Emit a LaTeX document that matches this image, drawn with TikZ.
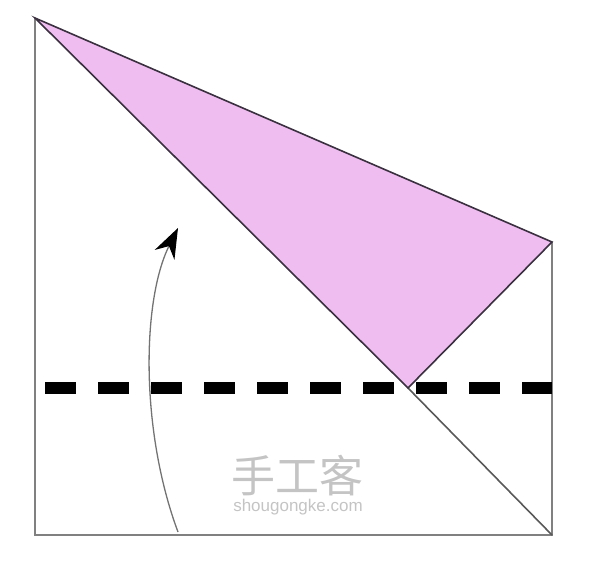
\documentclass[tikz,border=0pt]{standalone}
\usepackage{fontspec}
\setmainfont{Liberation Sans}
\newfontfamily\cjk{Noto Sans CJK SC}
\usetikzlibrary{arrows.meta}
\definecolor{edgegray}{HTML}{808080}
\definecolor{pinkfill}{HTML}{EFBDF0}
\definecolor{outline}{HTML}{3A3040}
\definecolor{wmgray}{HTML}{C4C4C4}
\tikzset{
  sheet/.style={draw=edgegray, line width=2pt},
  flap/.style={draw=outline, fill=pinkfill, line width=1.6pt, line join=miter},
  crease/.style={draw=black!65, line width=1.6pt},
  foldline/.style={draw=black, line width=12pt, dash pattern=on 31pt off 22pt},
  turn/.style={draw=black!55, line width=1.3pt, -{Stealth[length=30pt,width=22pt,black]}},
  wmark/.style={text=wmgray, inner sep=0pt}
}
\begin{document}
\begin{tikzpicture}[x=1pt,y=-1pt]
\useasboundingbox (0,0) rectangle (593,567);
\coordinate (TL) at (35,18);
\coordinate (TR) at (552,18);
\coordinate (BR) at (552,535);
\coordinate (BL) at (35,535);
\coordinate (R) at (552,242);
\coordinate (M) at (408,388);
\coordinate (DL) at (45,388);
\coordinate (DR) at (552,388);
\coordinate (A0) at (178,532);
\coordinate (A1) at (178,228);
\draw[sheet] (TL) -- (BL) -- (BR) -- (R);
\draw[crease] (M) -- (BR);
\draw[flap] (TL) -- (R) -- (M) -- cycle;
\draw[foldline] (DL) -- (DR);
\node[wmark, font=\cjk\fontsize{44}{44}\selectfont] (wm1) at (297,476) {手工客};
\node[wmark, font=\fontsize{17}{17}\selectfont] (wm2) at (298,507) {shougongke.com};
\draw[turn] (A0) .. controls (140,430) and (142,300) .. (A1);
\end{tikzpicture}
\end{document}
